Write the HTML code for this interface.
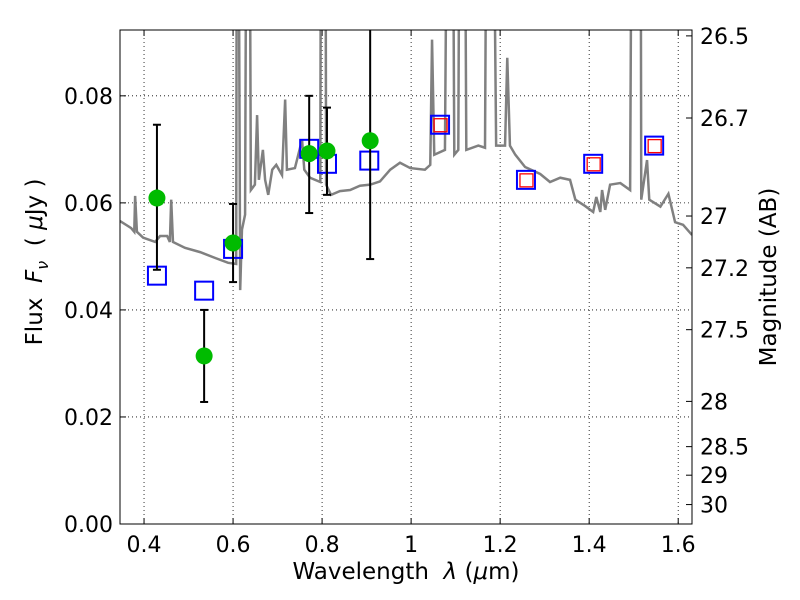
<!DOCTYPE html>
<html><head><meta charset="utf-8"><style>
body{margin:0;background:#fff}
svg{display:block;font-family:"DejaVu Sans","Liberation Sans",sans-serif}
</style></head><body>
<svg id="c" width="800" height="600"></svg>
<script>
const specLam=[0.346,0.371,0.378,0.380,0.384,0.398,0.425,0.436,0.452,0.458,0.461,0.465,0.492,0.526,0.560,0.589,0.607,0.609,0.611,0.616,0.620,0.627,0.631,0.636,0.640,0.649,0.654,0.658,0.667,0.672,0.679,0.688,0.697,0.710,0.717,0.721,0.739,0.755,0.760,0.773,0.796,0.798,0.807,0.809,0.820,0.840,0.863,0.885,0.908,0.930,0.953,0.975,0.998,1.031,1.043,1.047,1.052,1.076,1.083,1.092,1.097,1.106,1.110,1.119,1.124,1.151,1.166,1.171,1.182,1.191,1.211,1.216,1.222,1.234,1.256,1.290,1.312,1.335,1.357,1.369,1.391,1.409,1.416,1.425,1.429,1.436,1.447,1.470,1.492,1.497,1.515,1.517,1.530,1.535,1.560,1.578,1.593,1.611,1.631];
const specFlux=[0.0566,0.0553,0.0546,0.0613,0.0546,0.0535,0.0527,0.0538,0.0538,0.0527,0.0606,0.0527,0.0516,0.0508,0.0497,0.0488,0.0486,0.15,0.15,0.0437,0.0550,0.0578,0.15,0.15,0.0624,0.0634,0.0764,0.0643,0.0699,0.0643,0.0615,0.0662,0.0671,0.0652,0.0793,0.0662,0.0665,0.0718,0.0662,0.0647,0.0639,0.15,0.15,0.0634,0.0615,0.0622,0.0624,0.0632,0.0634,0.0640,0.0662,0.0675,0.0665,0.0662,0.0671,0.0905,0.0690,0.0699,0.15,0.15,0.0690,0.0699,0.15,0.15,0.0699,0.0707,0.0703,0.15,0.15,0.0707,0.0707,0.0871,0.0707,0.0690,0.0667,0.0654,0.0639,0.0647,0.0643,0.0606,0.0594,0.0583,0.0611,0.0583,0.0624,0.0587,0.0634,0.0637,0.0624,0.15,0.15,0.0606,0.0680,0.0606,0.0593,0.0617,0.0564,0.0559,0.0540];
const obsLam=[0.429,0.535,0.600,0.771,0.811,0.908];
const obsFlux=[0.0609,0.0314,0.0525,0.0692,0.0697,0.0716];
const obsHi=[0.0746,0.0400,0.0598,0.0800,0.0778,0.12];
const obsLo=[0.0475,0.0228,0.0452,0.0581,0.0615,0.0495];
const modLam=[0.429,0.535,0.600,0.771,0.811,0.906,1.065,1.258,1.409,1.546];
const modFlux=[0.0464,0.0436,0.0514,0.0701,0.0673,0.0679,0.0746,0.0643,0.0673,0.0707];
const irLam=[1.065,1.258,1.409,1.546];
const irFlux=[0.0746,0.0643,0.0673,0.0707];
const xTicks=[0.4,0.6,0.8,1.0,1.2,1.4,1.6];
const xLabels=["0.4","0.6","0.8","1","1.2","1.4","1.6"];
const yTicks=[0,0.02,0.04,0.06,0.08];
const yLabels=["0.00","0.02","0.04","0.06","0.08"];
const magTicks=[26.5,26.7,27,27.2,27.5,28,28.5,29,30];
const magLabels=["26.5","26.7","27","27.2","27.5","28","28.5","29","30"];

const L=120,R=692,T=30,B=524,x0=0.346,x1=1.631,y0=0,y1=0.0923;
const X=v=>L+(v-x0)/(x1-x0)*(R-L);
const Y=v=>B-(v-y0)/(y1-y0)*(B-T);
const NS="http://www.w3.org/2000/svg";
const svg=document.getElementById('c');
function mk(t,a,p){const e=document.createElementNS(NS,t);for(const k in a)e.setAttribute(k,a[k]);(p||svg).appendChild(e);return e;}
const defs=mk('defs',{});const cp=mk('clipPath',{id:'pc'},defs);mk('rect',{x:L,y:T,width:R-L,height:B-T},cp);

xTicks.forEach((v,i)=>{
 const g=mk('line',{x1:X(v),x2:X(v),y1:T,y2:B,stroke:'#000','stroke-width':0.8,'stroke-dasharray':'1,3'});
 
 mk('line',{x1:X(v),x2:X(v),y1:B,y2:B-6,stroke:'#000'});mk('line',{x1:X(v),x2:X(v),y1:T,y2:T+6,stroke:'#000'});
 const t=mk('text',{x:X(v),y:B+28,'text-anchor':'middle','font-size':22});t.textContent=xLabels[i];
 
});
yTicks.forEach((v,i)=>{
 const g=mk('line',{x1:L,x2:R,y1:Y(v),y2:Y(v),stroke:'#000','stroke-width':0.8,'stroke-dasharray':'1,3'});
 
 mk('line',{x1:L,x2:L+6,y1:Y(v),y2:Y(v),stroke:'#000'});
 const t=mk('text',{x:L-7,y:Y(v)+8,'text-anchor':'end','font-size':22});t.textContent=yLabels[i];
 
});
magTicks.forEach((m,i)=>{
 const f=Math.pow(10,(23.9-m)/2.5);const y=Y(f);
 mk('line',{x1:R-6,x2:R,y1:y,y2:y,stroke:'#000'});
 const t=mk('text',{x:R+8,y:y+8,'font-size':22});t.textContent=magLabels[i];
 
});

const pg=mk('g',{'clip-path':'url(#pc)'});
const sp=mk('polyline',{points:specLam.map((v,i)=>X(v)+','+Y(specFlux[i])).join(' '),fill:'none',stroke:'#808080','stroke-width':2.5},pg);

modLam.forEach((v,i)=>{
 const r=mk('rect',{x:X(v)-9,y:Y(modFlux[i])-9,width:18,height:18,fill:'none',stroke:'#0000ff','stroke-width':2},pg);
 
});
irLam.forEach((v,i)=>{
 const r=mk('rect',{x:X(v)-6,y:Y(irFlux[i])-6,width:13,height:13,fill:'none',stroke:'#ff0000','stroke-width':1.3},pg);
 
});
obsLam.forEach((v,i)=>{
 const x=X(v);
 const e=mk('line',{x1:x,x2:x,y1:Y(obsHi[i]),y2:Y(obsLo[i]),stroke:'#000','stroke-width':2},pg);
 
 [obsHi[i],obsLo[i]].forEach(q=>mk('line',{x1:x-4,x2:x+4,y1:Y(q),y2:Y(q),stroke:'#000','stroke-width':2},pg));
 const c=mk('circle',{cx:x,cy:Y(obsFlux[i]),r:8.5,fill:'#00bb00'},pg);
 
});
const fr=mk('rect',{x:L,y:T,width:R-L,height:B-T,fill:'none',stroke:'#000','stroke-width':1});

</script>
<div style="position:absolute;left:0;top:0;width:800px;height:600px;pointer-events:none;font-family:'DejaVu Sans','Liberation Sans',sans-serif">
 <div style="position:absolute;left:0;width:800px;text-align:center;top:559px;font-size:23px;padding-left:12px;box-sizing:border-box">Wavelength &nbsp;<i>λ</i> (<i>μ</i>m)</div>
 <div style="position:absolute;left:37px;top:262px;transform:translate(-50%,-50%) rotate(-90deg);white-space:nowrap;font-size:23px">Flux &nbsp;<i>F<sub style="font-size:16px">ν</sub></i> &nbsp;( <i>μ</i>Jy )</div>
 <div style="position:absolute;left:769px;top:277px;transform:translate(-50%,-50%) rotate(-90deg);white-space:nowrap;font-size:23px">Magnitude (AB)</div>
</div>
</body></html>
